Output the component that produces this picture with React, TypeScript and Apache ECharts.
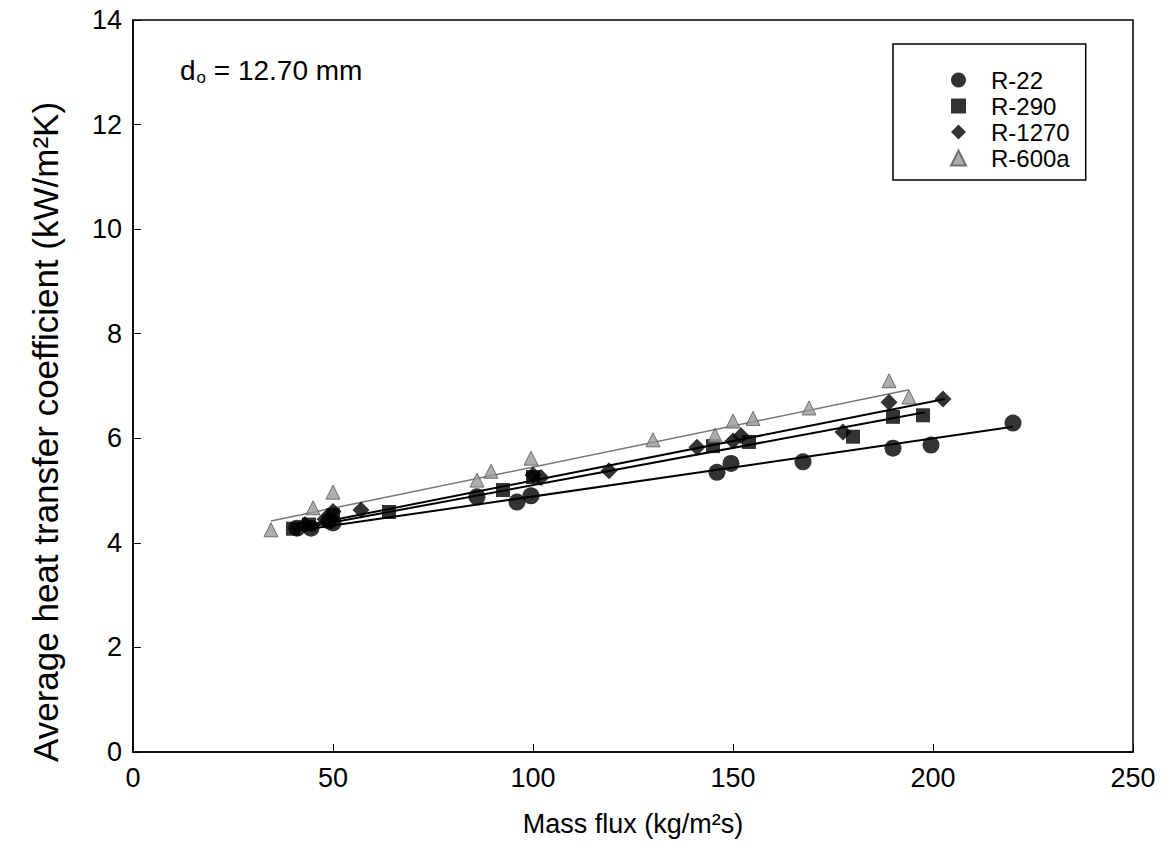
import React, { useEffect, useRef } from "react";
import * as echarts from "echarts";

const seriesNames = ["R-22", "R-290", "R-1270", "R-600a"];

const r22: number[][] = [[41, 4.28], [44.5, 4.28], [49, 4.42], [50, 4.38], [86, 4.88], [96, 4.78], [99.5, 4.9], [146, 5.35], [149.5, 5.52], [167.5, 5.55], [190, 5.81], [199.5, 5.87], [220, 6.29]];
const r290: number[][] = [[40, 4.27], [44, 4.35], [50, 4.53], [64, 4.59], [92.5, 5.01], [100, 5.26], [145, 5.85], [154, 5.93], [180, 6.03], [190, 6.41], [197.5, 6.44]];
const r1270: number[][] = [[43, 4.35], [48, 4.45], [50, 4.6], [57, 4.63], [100, 5.3], [102, 5.25], [119, 5.38], [141, 5.83], [150, 5.95], [152, 6.05], [177.5, 6.12], [189, 6.69], [202.5, 6.75]];
const r600a: number[][] = [[34.5, 4.25], [45, 4.67], [50, 4.97], [86, 5.2], [89.5, 5.37], [99.5, 5.62], [130, 5.97], [145.5, 6.06], [150, 6.33], [155, 6.38], [169, 6.58], [189, 7.1], [194, 6.79]];

const fitR22: number[][] = [[40, 4.22], [220, 6.22]];
const fitR290: number[][] = [[40, 4.25], [198, 6.5]];
const fitR1270: number[][] = [[43, 4.33], [203, 6.75]];
const fitR600a: number[][] = [[34.5, 4.42], [194, 6.93]];

const FONT = "Liberation Sans, Arial, sans-serif";

export default function App() {
  const ref = useRef<HTMLDivElement>(null);
  useEffect(() => {
    if (!ref.current) return;
    const chart = echarts.init(ref.current, null, { renderer: "svg" });
    const scatter = (name: string, data: number[][], symbol: string, size: number, color: string, border?: string) => ({
      name, type: "scatter", data, symbol, symbolSize: size,
      itemStyle: { color, borderColor: border || color, borderWidth: border ? 1 : 0 },
      z: 3,
    });
    const fit = (data: number[][], color: string, width: number) => ({
      type: "line", data, symbol: "none", silent: true,
      lineStyle: { color, width }, z: 2,
    });
    chart.setOption({
      animation: false,
      backgroundColor: "#fff",
      textStyle: { fontFamily: FONT },
      grid: { left: 133, right: 39, top: 20, bottom: 113, show: true, borderColor: "#000", borderWidth: 1.5, backgroundColor: "transparent" },
      xAxis: {
        type: "value", min: 0, max: 250, interval: 50,
        name: "Mass flux (kg/m²s)", nameLocation: "middle", nameGap: 58,
        nameTextStyle: { fontSize: 27, color: "#000", fontFamily: FONT },
        axisLine: { lineStyle: { color: "#000", width: 1.5 } },
        axisTick: { inside: true, length: 8, lineStyle: { color: "#000" } },
        axisLabel: { fontSize: 27, color: "#000", margin: 12, fontFamily: FONT },
        splitLine: { show: false },
      },
      yAxis: {
        type: "value", min: 0, max: 14, interval: 2,
        axisLine: { lineStyle: { color: "#000", width: 1.5 } },
        axisTick: { inside: true, length: 8, lineStyle: { color: "#000" } },
        axisLabel: { fontSize: 27, color: "#000", margin: 11, fontFamily: FONT },
        splitLine: { show: false },
      },
      legend: {
        data: seriesNames,
        orient: "vertical",
        left: 893, top: 44,
        padding: [23, 16, 9, 57],
        borderColor: "#000", borderWidth: 1.5,
        itemWidth: 15, itemHeight: 15, itemGap: 0,
        textStyle: { fontSize: 24, lineHeight: 26, color: "#000", fontFamily: FONT, padding: [0, 0, 0, 20] },
      },
      graphic: [
        {
          type: "text", left: 180, top: 56,
          style: {
            text: "{a|d}{b|o}{a| = 12.70 mm}",
            rich: {
              a: { fontSize: 28, fontFamily: FONT, fill: "#000" },
              b: { fontSize: 17, fontFamily: FONT, fill: "#000", padding: [15, 0, 0, 1] },
            },
          },
        },
        {
          type: "text", x: 45, y: 432, rotation: Math.PI / 2,
          style: {
            text: "Average heat transfer coefficient (kW/m²K)",
            fontSize: 35, fontFamily: FONT, fill: "#000",
            align: "center", verticalAlign: "middle",
          },
        },
      ],
      series: [
        fit(fitR22, "#000", 2),
        fit(fitR290, "#000", 2),
        fit(fitR1270, "#000", 2),
        fit(fitR600a, "#777", 1.5),
        scatter("R-22", r22, "circle", 17, "#000"),
        scatter("R-290", r290, "rect", 14, "#000"),
        scatter("R-1270", r1270, "diamond", 17, "#000"),
        scatter("R-600a", r600a, "triangle", 14, "#999", "#555"),
      ],
    });
    return () => chart.dispose();
  }, []);
  return <div ref={ref} style={{ position: "fixed", left: 0, top: 0, width: 1172, height: 865 }} />;
}
